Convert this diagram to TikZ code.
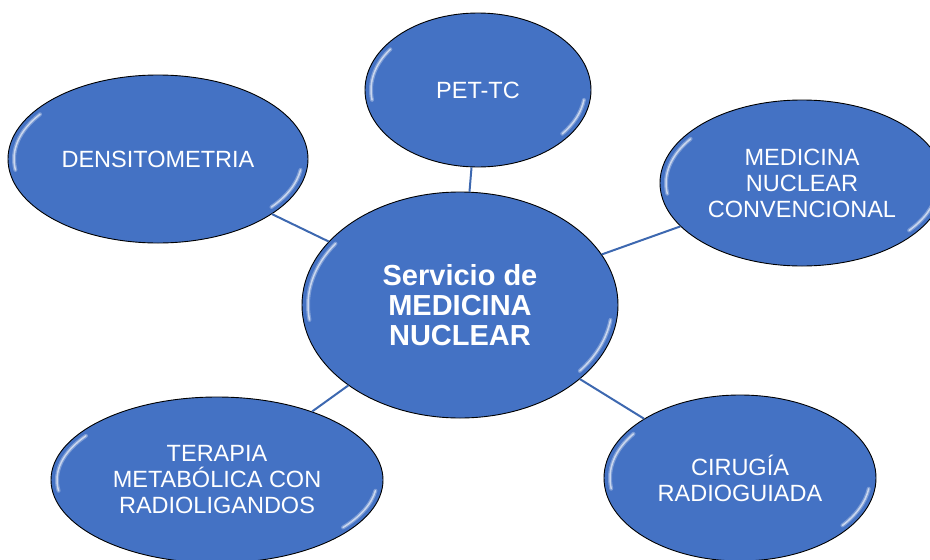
\documentclass[tikz,border=0pt]{standalone}
\usepackage{fontspec}
\setmainfont{Liberation Sans}
\usepackage{tikz}
\usetikzlibrary{shapes.geometric}

\definecolor{bubble}{HTML}{4472C4}
\definecolor{spoke}{HTML}{3D68B0}

\tikzset{
    bubble/.style={ellipse, draw=black, line width=0.9pt, fill=bubble,
        text=white, align=center, inner sep=0pt,
        font=\fontsize{23.5}{26}\selectfont},
    hub/.style={bubble, font=\fontsize{29}{30}\selectfont\bfseries},
    spoke/.style={draw=spoke, line width=2pt},
    glint/.style={white, opacity=0.3, line width=4pt, line cap=round},
    glint core/.style={white, opacity=0.6, line width=1.5pt, line cap=round}
}

\begin{document}
\begin{tikzpicture}[x=1pt, y=-1pt]
        \useasboundingbox (0,0) rectangle (930,560);
        \clip (0,0) rectangle (930,560);

        \node[hub, minimum width=316pt, minimum height=226pt] (core) at (460,305) {Servicio de\\MEDICINA\\NUCLEAR};
        \node[bubble, minimum width=226pt, minimum height=154pt] (pet) at (478,90) {PET-TC};
        \node[bubble, minimum width=300pt, minimum height=168pt] (dens) at (158,159) {DENSITOMETRIA};
        \node[bubble, minimum width=284pt, minimum height=166pt] (conv) at (802,183) {MEDICINA\\NUCLEAR\\CONVENCIONAL};
        \node[bubble, minimum width=332pt, minimum height=166pt] (tera) at (217,480) {TERAPIA\\METABÓLICA CON\\RADIOLIGANDOS};
        \node[bubble, minimum width=272pt, minimum height=166pt] (ciru) at (740,478) {CIRUGÍA\\RADIOGUIADA};

        \path[spoke]
            (core) -- (pet)
            (core) -- (dens)
            (core) -- (conv)
            (core) -- (tera)
            (core) -- (ciru);

        % bevel highlights
        \foreach \n/\rx/\ry in {core/152/107, pet/107/71, dens/144/78, conv/136/77, tera/160/77, ciru/130/77}
        {
            \foreach \s in {glint, glint core}
            {
                \draw[\s] ([shift={(145:\rx pt and \ry pt)}]\n.center)
                    arc[start angle=145, end angle=188, x radius=\rx pt, y radius=\ry pt];
                \draw[\s] ([shift={(-38:\rx pt and \ry pt)}]\n.center)
                    arc[start angle=-38, end angle=-8, x radius=\rx pt, y radius=\ry pt];
            }
        }
    \end{tikzpicture}
\end{document}
